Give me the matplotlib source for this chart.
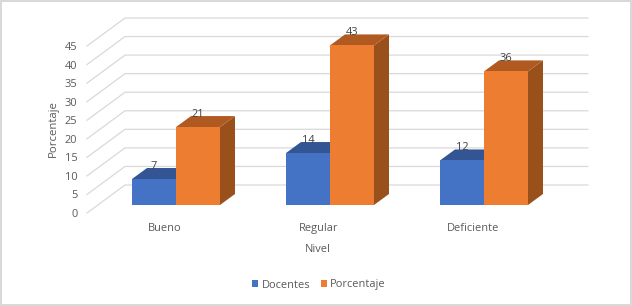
import matplotlib
matplotlib.use("Agg")
import matplotlib.pyplot as plt
from matplotlib.patches import Patch, Polygon

plt.rcParams['font.family'] = ['Open Sans', 'DejaVu Sans']

categories = ["Bueno", "Regular", "Deficiente"]
docentes = [7, 14, 12]
porcentaje = [21, 43, 36]
value_ticks = [0, 5, 10, 15, 20, 25, 30, 35, 40, 45]

TEXT = "#595959"
GRID = "#d9d9d9"
BLUE = ("#4472c4", "#335593")
ORANGE = ("#ed7d31", "#b05a22", "#9a501b")
FS = 7.9

W, H = 632, 306
fig = plt.figure(figsize=(W / 100, H / 100), dpi=100)
fig.patch.set_facecolor("white")
fig.patch.set_edgecolor(GRID)
fig.patch.set_linewidth(1.5)

# axes = front-left plane of the 3D box
L, R, B, T = 87, 588, 213, 17.3
ax = fig.add_axes([L / W, 1 - B / H, (R - L) / W, (B - T) / H])
px_y = 167 / 45          # pixels per value unit
px_x = 154               # pixels per category step
ax.set_xlim((L - 165) / px_x, (R - 165) / px_x)
ax.set_ylim(0, (B - T) / px_y)
ax.patch.set_visible(False)
for s in ax.spines.values():
    s.set_visible(False)

DX, DY = 38 / px_x, 28 / px_y        # full floor depth
bar_w = 44 / px_x
front_dx, front_dy = 11 / px_x, 8 / px_y   # bar front plane offset
depth_dx, depth_dy = 15 / px_x, 11 / px_y  # bar depth

x0 = ax.get_xlim()[0]
x1 = ax.get_xlim()[1]
for v in value_ticks:
    ax.plot([x0, x0 + DX, x1], [v, v + DY, v + DY], color=GRID, lw=0.9,
            clip_on=False, zorder=1, solid_joinstyle="miter")

def bar(x, v, cols, side=None, z=3):
    xl = x + front_dx
    xr = xl + bar_w
    yb = front_dy
    yt = v + front_dy
    if side:
        ax.add_patch(Polygon([(xr, yb), (xr + depth_dx, yb + depth_dy),
                              (xr + depth_dx, yt + depth_dy), (xr, yt)],
                             fc=side, ec="none", zorder=z))
    ax.add_patch(Polygon([(xl, yt), (xl + depth_dx, yt + depth_dy),
                          (xr + depth_dx, yt + depth_dy), (xr, yt)],
                         fc=cols[1], ec="none", zorder=z))
    ax.add_patch(Polygon([(xl, yb), (xr, yb), (xr, yt), (xl, yt)],
                         fc=cols[0], ec="none", zorder=z + 0.1))
    ax.text((xl + xr) / 2, yt + 13 / px_y, str(v), ha="center", va="center",
            fontsize=FS, color="#404040", zorder=6)

for i in range(len(categories)):
    bar(i - bar_w, docentes[i], BLUE, z=3)
    bar(i, porcentaje[i], ORANGE, side=ORANGE[2], z=4)

ax.set_xticks(range(len(categories)), categories)
ax.set_yticks(value_ticks)
ax.tick_params(axis="both", length=0, labelsize=FS, labelcolor=TEXT)
ax.tick_params(axis="y", pad=7)
ax.tick_params(axis="x", pad=7.5)

fig.text(318 / W, 1 - 249.5 / H, "Nivel", ha="center", va="center",
         fontsize=FS, color=TEXT)
fig.text(53.5 / W, 1 - 129 / H, "Porcentaje", ha="center", va="center",
         rotation=90, fontsize=FS + 0.3, color=TEXT)

fig.legend(handles=[Patch(fc=BLUE[0], label="Docentes"),
                    Patch(fc=ORANGE[0], label="Porcentaje")],
           loc="center", bbox_to_anchor=(319 / W, 1 - 285 / H),
           ncol=2, frameon=False, fontsize=FS, labelcolor=TEXT,
           handlelength=0.55, handleheight=0.55, handletextpad=0.3,
           columnspacing=1.0, borderpad=0)

fig.savefig("out.png", dpi=100, facecolor=fig.get_facecolor(),
            edgecolor=fig.get_edgecolor())
